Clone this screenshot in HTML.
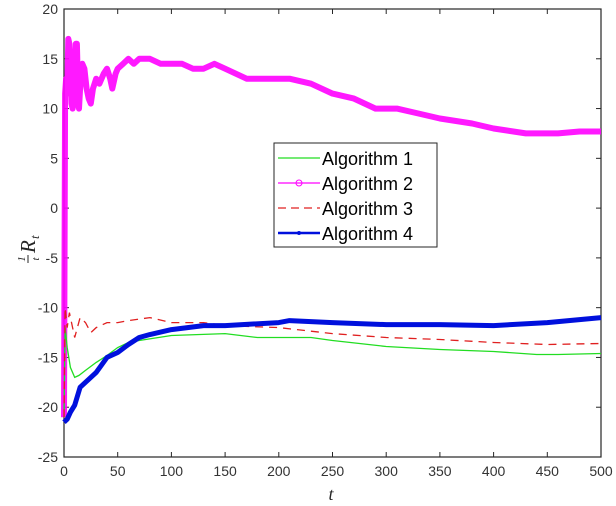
<!DOCTYPE html>
<html><head><meta charset="utf-8"><style>
body{margin:0;background:#fff;}
svg{display:block;font-family:"Liberation Sans",Arial,sans-serif;}
</style></head><body>
<svg id="chart" width="616" height="506">
<rect width="616" height="506" fill="#fff"/>
<g id="axes"></g>
<g id="series"></g>
<g id="legend"></g>
<text x="331" y="500" font-size="18" font-style="italic" font-family="Liberation Serif,serif" fill="#262626" text-anchor="middle">t</text>
<g transform="translate(30,244) rotate(-90)" font-family="Liberation Serif,serif" font-style="italic" fill="#262626">
<text x="-15" y="-5" font-size="11" text-anchor="middle">1</text>
<line x1="-19" x2="-11" y1="-2" y2="-2" stroke="#262626" stroke-width="1"/>
<text x="-15" y="9" font-size="11" text-anchor="middle">t</text>
<text x="-9" y="5" font-size="21">R</text>
<text x="5" y="9" font-size="13">t</text>
</g>
</svg>
<script>
const xTicks=[0,50,100,150,200,250,300,350,400,450,500];
const yTicks=[20,15,10,5,0,-5,-10,-15,-20,-25];
const t1=[0,1,3,6,10,14,20,30,40,50,60,70,100,150,180,200,230,250,300,350,400,440,460,500];
const v1=[-21,-12,-14,-16,-17,-16.8,-16.3,-15.5,-14.8,-14,-13.5,-13.3,-12.8,-12.6,-13,-13,-13,-13.3,-13.9,-14.2,-14.4,-14.7,-14.7,-14.6];
const t2=[0,1,2,3,4,5,6,7,8,9,10,11,12,13,14,15,17,19,21,23,25,27,30,33,37,40,43,45,48,50,55,60,65,70,80,90,100,110,120,130,140,150,170,190,210,230,250,270,290,310,330,350,380,400,430,460,480,500];
const v2=[-21,11.5,13,11.5,17,16.5,14,10.5,10,10.5,13,16.5,16.5,12,10,12,14.5,14,12,11,10.5,12,13,12.5,13.5,14,13,12,13.5,14,14.5,15,14.5,15,15,14.5,14.5,14.5,14,14,14.5,14,13,13,13,12.5,11.5,11,10,10,9.5,9,8.5,8,7.5,7.5,7.7,7.7];
const t3=[0,1,3,5,8,10,15,20,25,30,40,50,60,80,100,130,150,200,250,300,350,400,450,500];
const v3=[-21,-10,-12,-10.5,-12,-13,-11,-11.5,-12.5,-12,-11.5,-11.5,-11.3,-11,-11.5,-11.5,-11.8,-12,-12.6,-13,-13.2,-13.5,-13.7,-13.6];
const t4=[0,3,6,10,15,20,30,40,50,60,70,80,100,130,150,200,210,250,300,350,400,450,480,500];
const v4=[-21.5,-21.2,-20.5,-19.8,-18,-17.5,-16.5,-15,-14.5,-13.7,-13,-12.7,-12.2,-11.8,-11.8,-11.5,-11.3,-11.5,-11.7,-11.7,-11.8,-11.5,-11.2,-11];
const legendLabels=["Algorithm 1","Algorithm 2","Algorithm 3","Algorithm 4"];

const L=64,R=601,T=9,B=457;
const X=v=>L+(v-0)/(500-0)*(R-L);
const Y=v=>T+(20-v)/(20-(-25))*(B-T);
const NS="http://www.w3.org/2000/svg";
function mk(tag,attrs,parent){const e=document.createElementNS(NS,tag);for(const k in attrs)e.setAttribute(k,attrs[k]);parent.appendChild(e);return e;}
const axes=document.getElementById('axes');
const ax=mk('rect',{x:L,y:T,width:R-L,height:B-T,fill:'none',stroke:'#262626','stroke-width':1.2},axes);


xTicks.forEach(v=>{
  const x=X(v);
  mk('line',{x1:x,x2:x,y1:B,y2:B-5,stroke:'#262626'},axes);
  mk('line',{x1:x,x2:x,y1:T,y2:T+5,stroke:'#262626'},axes);
  const tx=mk('text',{x:x,y:B+19,'font-size':14,fill:'#333','text-anchor':'middle'},axes);
  tx.textContent=v;
  
  
});
yTicks.forEach(v=>{
  const y=Y(v);
  mk('line',{x1:L,x2:L+5,y1:y,y2:y,stroke:'#262626'},axes);
  mk('line',{x1:R,x2:R-5,y1:y,y2:y,stroke:'#262626'},axes);
  const tx=mk('text',{x:L-6,y:y+5,'font-size':14,fill:'#333','text-anchor':'end'},axes);
  tx.textContent=v;
  
  
});
const sg=document.getElementById('series');
function pts(ts,vs){return ts.map((t,i)=>X(t).toFixed(1)+','+Y(vs[i]).toFixed(1)).join(' ');}
let p=mk('polyline',{points:pts(t2,v2),fill:'none',stroke:'#ff00ff','stroke-width':6,'stroke-linejoin':'round',opacity:0.9},sg);


p=mk('polyline',{points:pts(t1,v1),fill:'none',stroke:'#22dd22','stroke-width':1.3},sg);


p=mk('polyline',{points:pts(t3,v3),fill:'none',stroke:'#e02020','stroke-width':1.3,'stroke-dasharray':'8,6'},sg);


p=mk('polyline',{points:pts(t4,v4),fill:'none',stroke:'#0010dd','stroke-width':5,'stroke-linejoin':'round'},sg);



const lg=document.getElementById('legend');
mk('rect',{x:274,y:143,width:163,height:104,fill:'#fff',stroke:'#262626','stroke-width':1},lg);
const cols=['#22dd22','#ff00ff','#e02020','#0010dd'];
legendLabels.forEach((lab,i)=>{
  const y=158+i*25;
  const ln=mk('line',{x1:278,x2:320,y1:y,y2:y,stroke:cols[i],'stroke-width':i==3?2.5:1.3},lg);
  if(i==2)ln.setAttribute('stroke-dasharray','8,5');
  if(i==1)mk('circle',{cx:299,cy:y,r:3,fill:'none',stroke:cols[i]},lg);
  if(i==3)mk('circle',{cx:299,cy:y,r:2,fill:cols[i]},lg);
  const tx=mk('text',{x:322,y:y+7,'font-size':18,fill:'#000'},lg);
  tx.textContent=lab;
  
  
});
</script>
</body></html>
